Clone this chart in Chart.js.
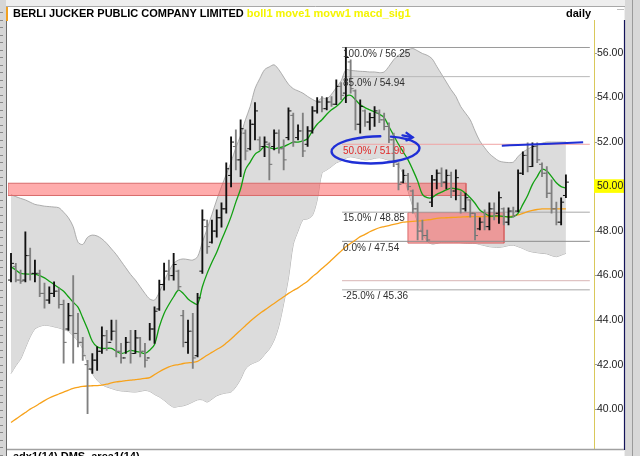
<!DOCTYPE html>
<html><head><meta charset="utf-8">
<script src="https://cdn.jsdelivr.net/npm/chart.js@4.4.1/dist/chart.umd.min.js"></script>
<style>html,body{margin:0;padding:0;background:#ececec;overflow:hidden}canvas{display:block}</style>
</head><body><canvas id="c" width="640" height="456"></canvas>
<script>
// ---- data (daily bars, index = trading day) ----
const highs = [47.00,46.55,46.25,47.97,47.24,46.70,46.25,45.66,45.50,45.72,45.44,44.90,44.75,46.00,44.30,43.23,42.19,42.50,42.80,43.70,43.54,44.00,44.00,42.96,43.23,43.54,43.54,43.23,42.96,43.85,44.60,45.80,46.56,46.70,47.00,46.25,44.44,44.00,44.30,45.20,48.95,48.50,48.50,48.95,49.27,51.07,52.24,52.55,53.00,52.55,53.00,53.77,52.24,52.24,51.97,52.55,52.55,52.10,53.54,53.30,52.78,53.30,52.70,53.60,54.00,54.04,54.00,54.04,54.80,54.67,56.25,55.70,54.35,53.90,53.45,53.30,53.60,53.45,53.30,52.87,52.40,51.07,50.75,50.60,49.85,49.27,48.50,48.05,50.50,50.75,50.84,50.75,50.65,50.75,49.76,49.70,49.40,48.80,48.60,48.95,49.27,49.27,49.76,49.04,49.04,49.08,50.75,51.56,51.97,51.97,51.97,51.07,50.90,50.30,49.30,49.50,50.53];
const lows = [45.72,45.72,45.65,45.72,45.80,45.72,45.05,44.54,44.75,45.05,44.54,42.06,43.54,42.06,42.80,42.19,39.80,41.60,41.74,42.50,42.64,43.10,42.35,42.06,42.50,42.06,42.50,42.35,41.88,43.10,42.95,44.44,45.35,45.80,45.80,45.35,42.80,42.50,41.83,42.35,46.10,47.00,47.46,47.73,48.18,48.80,49.99,50.75,50.44,51.20,51.65,52.10,51.65,51.34,50.30,51.65,51.50,50.75,52.10,51.80,52.10,51.34,51.80,52.40,53.30,53.36,53.45,53.60,53.68,53.90,53.77,54.20,52.55,52.40,52.70,52.55,52.70,52.87,52.55,51.97,50.90,49.85,50.17,49.85,48.80,47.60,47.60,47.54,49.10,49.90,50.00,49.90,49.50,49.40,48.80,48.90,48.63,47.60,48.05,48.05,48.05,48.50,48.35,48.28,48.28,48.63,48.86,50.53,50.66,50.90,51.07,50.44,49.50,48.80,48.28,48.28,49.50];
const opens = [45.80,46.40,45.80,45.80,46.90,46.10,46.10,45.20,44.90,45.20,45.30,44.70,43.60,44.20,43.40,43.00,42.00,41.80,42.20,42.60,43.30,43.00,43.50,42.60,42.30,43.00,42.50,43.20,42.60,42.30,43.60,44.50,45.60,46.20,46.00,46.20,44.20,43.00,43.50,42.40,46.20,48.20,47.50,48.00,48.60,49.00,50.50,51.80,51.20,52.40,51.70,52.80,52.10,51.80,51.90,51.80,52.40,51.70,52.20,53.20,52.20,52.50,51.90,52.50,53.40,53.80,53.50,53.80,53.70,54.50,54.20,55.60,54.30,52.80,53.40,52.90,53.10,53.30,53.00,52.70,52.10,51.00,50.20,50.50,49.80,49.00,48.00,47.80,49.30,50.30,50.60,50.20,50.50,49.80,49.60,49.00,49.40,48.80,48.10,48.40,48.20,49.00,48.80,49.00,48.40,48.90,48.90,50.60,51.40,50.90,51.80,51.00,50.60,49.70,49.00,48.40,49.60];
const closes = [46.55,45.80,45.75,46.90,46.10,46.10,45.20,44.90,45.20,45.30,44.70,43.00,44.20,43.40,43.00,42.40,41.80,42.20,42.60,43.30,43.00,43.50,42.60,42.30,43.00,42.50,43.20,42.60,42.20,43.60,44.40,45.60,46.20,46.00,46.50,45.50,43.00,43.50,42.30,45.00,48.50,47.30,48.00,48.60,49.00,50.80,52.00,51.20,52.60,51.60,52.80,53.40,51.80,52.00,51.00,52.40,51.70,51.20,53.40,52.00,52.50,51.60,52.50,53.40,53.80,53.50,53.80,53.70,54.50,54.10,55.80,54.40,52.80,53.60,52.90,53.10,53.40,53.00,52.70,52.10,51.10,50.10,50.50,50.00,49.00,48.00,47.80,47.60,50.30,50.60,50.20,50.50,49.80,50.40,49.00,49.50,48.80,47.80,48.40,48.20,49.00,48.80,49.50,48.40,48.90,48.70,50.60,51.40,50.90,51.80,51.20,50.60,49.70,49.00,48.40,49.30,50.20];
const maFast = [46.40,46.25,46.10,46.08,46.07,46.07,46.00,45.90,45.75,45.60,45.45,45.30,45.05,44.80,44.58,44.10,43.60,43.05,42.80,42.73,42.73,42.73,42.60,42.50,42.55,42.64,42.60,42.55,42.50,42.65,42.90,43.70,44.30,44.70,45.05,45.35,45.20,44.95,44.80,44.72,45.50,46.10,46.60,47.05,47.60,48.10,48.65,49.30,49.90,50.75,51.10,51.45,51.60,51.80,51.75,51.70,51.75,51.80,51.90,52.00,52.00,52.05,52.15,52.50,52.80,53.00,53.25,53.45,53.60,53.80,54.05,54.10,53.90,53.68,53.55,53.45,53.35,53.25,53.10,52.70,52.30,51.90,51.55,51.20,50.75,50.25,49.65,49.50,49.50,49.65,49.75,49.85,49.93,49.90,49.85,49.70,49.50,49.25,48.95,48.80,48.68,48.68,48.68,48.66,48.63,48.65,48.80,49.20,49.60,50.10,50.45,50.78,50.70,50.45,50.17,50.00,49.94];
const maSlow = [39.40,39.55,39.70,39.85,40.00,40.12,40.25,40.38,40.50,40.60,40.68,40.76,40.85,40.93,40.98,41.02,41.04,41.05,41.06,41.08,41.12,41.18,41.22,41.25,41.28,41.30,41.33,41.35,41.38,41.42,41.55,41.68,41.80,41.90,41.97,42.00,42.05,42.08,42.10,42.15,42.28,42.42,42.55,42.68,42.80,42.97,43.15,43.35,43.55,43.75,43.95,44.13,44.30,44.45,44.60,44.75,44.90,45.05,45.20,45.33,45.45,45.60,45.75,45.95,46.12,46.32,46.50,46.70,46.90,47.10,47.30,47.45,47.60,47.75,47.85,47.97,48.07,48.15,48.20,48.25,48.30,48.35,48.40,48.42,48.44,48.45,48.47,48.50,48.53,48.57,48.59,48.60,48.61,48.62,48.63,48.64,48.65,48.65,48.65,48.65,48.65,48.65,48.65,48.65,48.65,48.68,48.73,48.80,48.87,48.93,48.97,49.00,49.00,49.00,49.00,49.00,49.00];
const bollUpper = [49.63,49.55,49.47,49.40,49.30,49.20,49.16,49.12,49.10,49.08,49.05,48.85,48.60,48.20,47.50,47.40,47.72,47.82,47.78,47.65,47.45,47.20,46.95,46.65,46.35,46.05,45.80,45.50,45.20,44.95,44.90,45.25,45.75,46.20,46.55,46.70,46.75,46.72,46.70,46.85,47.50,48.10,48.75,49.40,50.00,50.55,51.10,51.75,52.30,53.00,53.60,54.40,54.85,55.25,55.38,55.47,55.25,54.92,54.60,54.40,54.30,54.20,54.05,53.92,53.83,53.98,53.95,54.15,54.45,54.75,55.25,55.22,55.20,55.18,55.17,55.15,55.15,55.12,55.15,55.40,55.70,55.90,56.05,56.15,56.20,56.10,55.98,55.90,55.75,55.40,55.05,54.70,54.35,54.05,53.60,53.30,53.00,52.50,52.05,51.75,51.48,51.30,51.15,51.10,51.08,51.10,51.35,51.55,51.68,51.80,51.88,51.95,52.00,52.00,52.00,52.00,52.00];
const bollLower = [41.60,41.95,42.25,42.75,43.25,43.60,43.72,43.77,43.75,43.70,43.65,43.58,43.50,43.30,43.05,42.70,42.05,41.60,41.30,41.10,41.00,40.93,40.86,40.82,40.80,40.78,40.77,40.80,40.84,40.80,40.66,40.55,40.40,40.22,40.09,40.12,40.15,40.22,40.32,40.42,40.42,40.32,40.45,40.60,40.68,40.73,40.77,41.00,41.35,41.80,42.00,42.10,42.20,42.45,42.70,43.10,43.75,44.75,45.90,47.40,48.00,48.50,48.55,48.70,49.40,50.60,50.75,50.90,51.07,51.15,51.28,51.34,51.30,51.25,51.20,51.22,51.27,51.30,51.25,51.18,51.12,50.95,50.55,49.80,49.10,48.40,47.90,47.55,47.42,47.45,47.50,47.50,47.50,47.50,47.48,47.46,47.45,47.45,47.40,47.35,47.30,47.28,47.27,47.30,47.35,47.37,47.30,47.22,47.12,47.06,47.03,47.00,46.98,46.90,46.85,46.92,47.00];
const yTicks = [40, 42, 44, 46, 48, 50, 52, 54, 56];
const fibPct = ['100.0%', '85.0%', '50.0%', '15.0%', '0.0%', '-25.0%'];
const fibValues = [56.25, 54.94, 51.90, 48.85, 47.54, 45.36];
const extraLevel = 45.77;
const days = highs.map((_, i) => i);

// ---- annotation geometry (in data units) ----
const X_MIN = -0.63, X_MAX = 121.87, Y_MIN = 38.177, Y_MAX = 57.485;
const FIB_X0 = 69.2, FIB_X1 = 121.0;
const ZONE1 = {x0: -0.63, x1: 95.1, y0: 49.60, y1: 50.15};
const ZONE2 = {x0: 82.98, x1: 103.05, y0: 47.46, y1: 48.83};
const BLUE_LINE = [{x: 102.6, y: 51.84}, {x: 106, y: 51.87}, {x: 119.6, y: 51.99}];
const ELLIPSE = {x: 76.2, y: 51.65};

const FONT = "'Liberation Sans', Arial, sans-serif";
const fibColors = ['#9a9a9a', '#b8b8b8', '#f0a4a4', '#a8a8a8', '#8c8c8c', '#a8a8a8'];

function rect(z) {
  return [{x: z.x0, y: z.y1}, {x: z.x1, y: z.y1}, {x: z.x1, y: z.y0}, {x: z.x0, y: z.y0}, {x: z.x0, y: z.y1}];
}
const upBar = days.map(i => closes[i] >= opens[i]);

const datasets = [
  {type: 'line', data: days.map(i => ({x: i, y: bollUpper[i]})), borderColor: '#9c9c9c', borderWidth: 0.8,
   backgroundColor: '#dcdcdc', fill: '+1', pointRadius: 0, tension: 0.3, order: 20},
  {type: 'line', data: days.map(i => ({x: i, y: bollLower[i]})), borderColor: '#9c9c9c', borderWidth: 0.8,
   fill: false, pointRadius: 0, tension: 0.3, order: 20},
  {type: 'line', data: rect(ZONE1), borderColor: '#d86a6a', borderWidth: 1, backgroundColor: 'rgba(255,70,70,0.45)',
   fill: 'shape', pointRadius: 0, tension: 0, order: 15},
  {type: 'line', data: rect(ZONE2), borderColor: '#d86a6a', borderWidth: 1, backgroundColor: 'rgba(255,70,70,0.45)',
   fill: 'shape', pointRadius: 0, tension: 0, order: 15},
  {type: 'line', data: [{x: FIB_X0, y: extraLevel}, {x: FIB_X1, y: extraLevel}], borderColor: '#d8b4b4', borderWidth: 1,
   pointRadius: 0, fill: false, order: 12}
];
fibValues.forEach((v, k) => datasets.push({type: 'line', data: [{x: FIB_X0, y: v}, {x: FIB_X1, y: v}],
  borderColor: fibColors[k], borderWidth: 1, pointRadius: 0, fill: false, order: 12}));
datasets.push(
  {type: 'line', data: days.map(i => ({x: i, y: maSlow[i]})), borderColor: '#f7a21b', borderWidth: 1.3,
   pointRadius: 0, fill: false, tension: 0.3, order: 8},
  {type: 'line', data: days.map(i => ({x: i, y: maFast[i]})), borderColor: '#12a012', borderWidth: 1.3,
   pointRadius: 0, fill: false, tension: 0.35, order: 7},
  {type: 'bar', data: days.map(i => ({x: i, y: [lows[i], highs[i]]})), barThickness: 1.2,
   backgroundColor: days.map(i => upBar[i] ? '#111111' : '#808080'), borderWidth: 0, order: 5},
  {type: 'line', data: days.map(i => ({x: i - 0.33, y: opens[i]})), showLine: false, pointStyle: 'line',
   pointRadius: 1.4, pointBorderWidth: 1, pointBorderColor: days.map(i => upBar[i] ? '#111111' : '#707070'), order: 4},
  {type: 'line', data: days.map(i => ({x: i + 0.33, y: closes[i]})), showLine: false, pointStyle: 'line',
   pointRadius: 1.4, pointBorderWidth: 1, pointBorderColor: days.map(i => upBar[i] ? '#111111' : '#707070'), order: 4},
  {type: 'line', data: BLUE_LINE, borderColor: '#1f2fd6', borderWidth: 2, pointRadius: 0, fill: false, tension: 0.3, order: 1}
);

const framePlugin = {
  id: 'frame',
  beforeDraw(chart) {
    const c = chart.ctx;
    c.save();
    c.fillStyle = '#eeeeee'; c.fillRect(0, 0, 640, 456);
    c.fillStyle = '#ffffff'; c.fillRect(7, 7, 617, 449);
    // left strip
    c.fillStyle = '#d6d6d6'; c.fillRect(0, 0, 6, 456);
    c.strokeStyle = '#8a8a8a'; c.lineWidth = 1;
    for (let y = 12; y < 456; y += 7.5) { c.beginPath(); c.moveTo(0, Math.round(y) + 0.5); c.lineTo(3, Math.round(y) + 0.5); c.stroke(); }
    c.strokeStyle = '#6a6a6a'; c.beginPath(); c.moveTo(6.5, 6); c.lineTo(6.5, 456); c.stroke();
    // top border
    c.strokeStyle = '#a8a8a8'; c.beginPath(); c.moveTo(6, 6.5); c.lineTo(625, 6.5); c.stroke();
    // right side
    c.fillStyle = '#d8d8d8'; c.fillRect(625, 0, 15, 456);
    c.strokeStyle = '#9a9a9a'; c.beginPath(); c.moveTo(632.5, 0); c.lineTo(632.5, 456); c.stroke();
    c.strokeStyle = '#bdbdbd'; c.beginPath(); c.moveTo(617, 9.5); c.lineTo(624, 9.5); c.stroke();
    c.restore();
  },
  afterDraw(chart) {
    const c = chart.ctx;
    c.save();
    c.strokeStyle = '#14145a'; c.lineWidth = 1.2;
    c.beginPath(); c.moveTo(624.5, 20); c.lineTo(624.5, 450); c.stroke();
    c.strokeStyle = '#a0a0a0'; c.lineWidth = 1.5;
    c.beginPath(); c.moveTo(7, 449.5); c.lineTo(624, 449.5); c.stroke();
    c.fillStyle = '#f0a020'; c.fillRect(6, 7, 2, 14);
    c.textBaseline = 'middle'; c.textAlign = 'left';
    c.font = 'bold 11px ' + FONT;
    c.fillStyle = '#000000';
    const t1 = 'BERLI JUCKER PUBLIC COMPANY LIMITED ';
    c.fillText(t1, 13, 14);
    const w = c.measureText(t1).width;
    c.fillStyle = '#f4f400';
    c.fillText('boll1 move1 movw1 macd_sig1', 13 + w, 14);
    c.fillStyle = '#000000';
    c.fillText('daily', 566, 14);
    c.textBaseline = 'top';
    c.fillText('adx1(14) DMS  area1(14)', 13, 451.5);
    c.restore();
  },
  afterDatasetsDraw(chart) {
    const c = chart.ctx, xs = chart.scales.x, ys = chart.scales.y;
    c.save();
    c.font = '10px ' + FONT; c.textBaseline = 'middle'; c.textAlign = 'left';
    fibValues.forEach((v, k) => {
      c.fillStyle = k === 2 ? '#e02828' : '#303030';
      c.fillText(fibPct[k] + ' / ' + v.toFixed(2), xs.getPixelForValue(FIB_X0) + 1, ys.getPixelForValue(v) + 6.5);
    });
    // hand-drawn ellipse
    const cx = xs.getPixelForValue(ELLIPSE.x), cy = ys.getPixelForValue(ELLIPSE.y);
    c.strokeStyle = '#1f2fd6'; c.lineWidth = 2.4; c.lineCap = 'round';
    c.beginPath(); c.ellipse(cx, cy, 44, 13.5, -0.04, -1.2, 2 * Math.PI - 1.45); c.stroke();
    c.beginPath(); c.moveTo(cx + 27, cy - 14.5); c.lineTo(cx + 37, cy - 12.5); c.stroke();
    c.beginPath(); c.moveTo(cx + 31, cy - 17); c.lineTo(cx + 37, cy - 12.5); c.lineTo(cx + 31, cy - 9.5); c.stroke();
    c.restore();
  }
};

new Chart(document.getElementById('c'), {
  type: 'line',
  data: {datasets},
  options: {
    responsive: false, animation: false, devicePixelRatio: 1,
    layout: {padding: {left: 8, top: 20, right: 16, bottom: 6}},
    plugins: {legend: {display: false}, tooltip: {enabled: false}},
    scales: {
      x: {type: 'linear', min: X_MIN, max: X_MAX, display: false, offset: false},
      y: {
        type: 'linear', position: 'right', min: Y_MIN, max: Y_MAX,
        afterBuildTicks: s => { s.ticks = yTicks.map(v => ({value: v})); },
        afterFit: s => { s.width = 30; },
        grid: {drawOnChartArea: false, drawTicks: true, tickLength: 3, color: '#9a9a9a'},
        border: {display: true, color: '#d9c85a', dash: [1, 2], width: 1},
        ticks: {
          padding: 0, color: '#222222', font: {family: FONT, size: 10.5},
          callback: v => Number(v).toFixed(2),
          showLabelBackdrop: true,
          backdropColor: ctx => (ctx.tick && ctx.tick.value === 50) ? '#ffff00' : 'rgba(0,0,0,0)',
          backdropPadding: {top: 1, bottom: 0, left: 3, right: 2}
        }
      }
    }
  },
  plugins: [framePlugin]
});
</script></body></html>
